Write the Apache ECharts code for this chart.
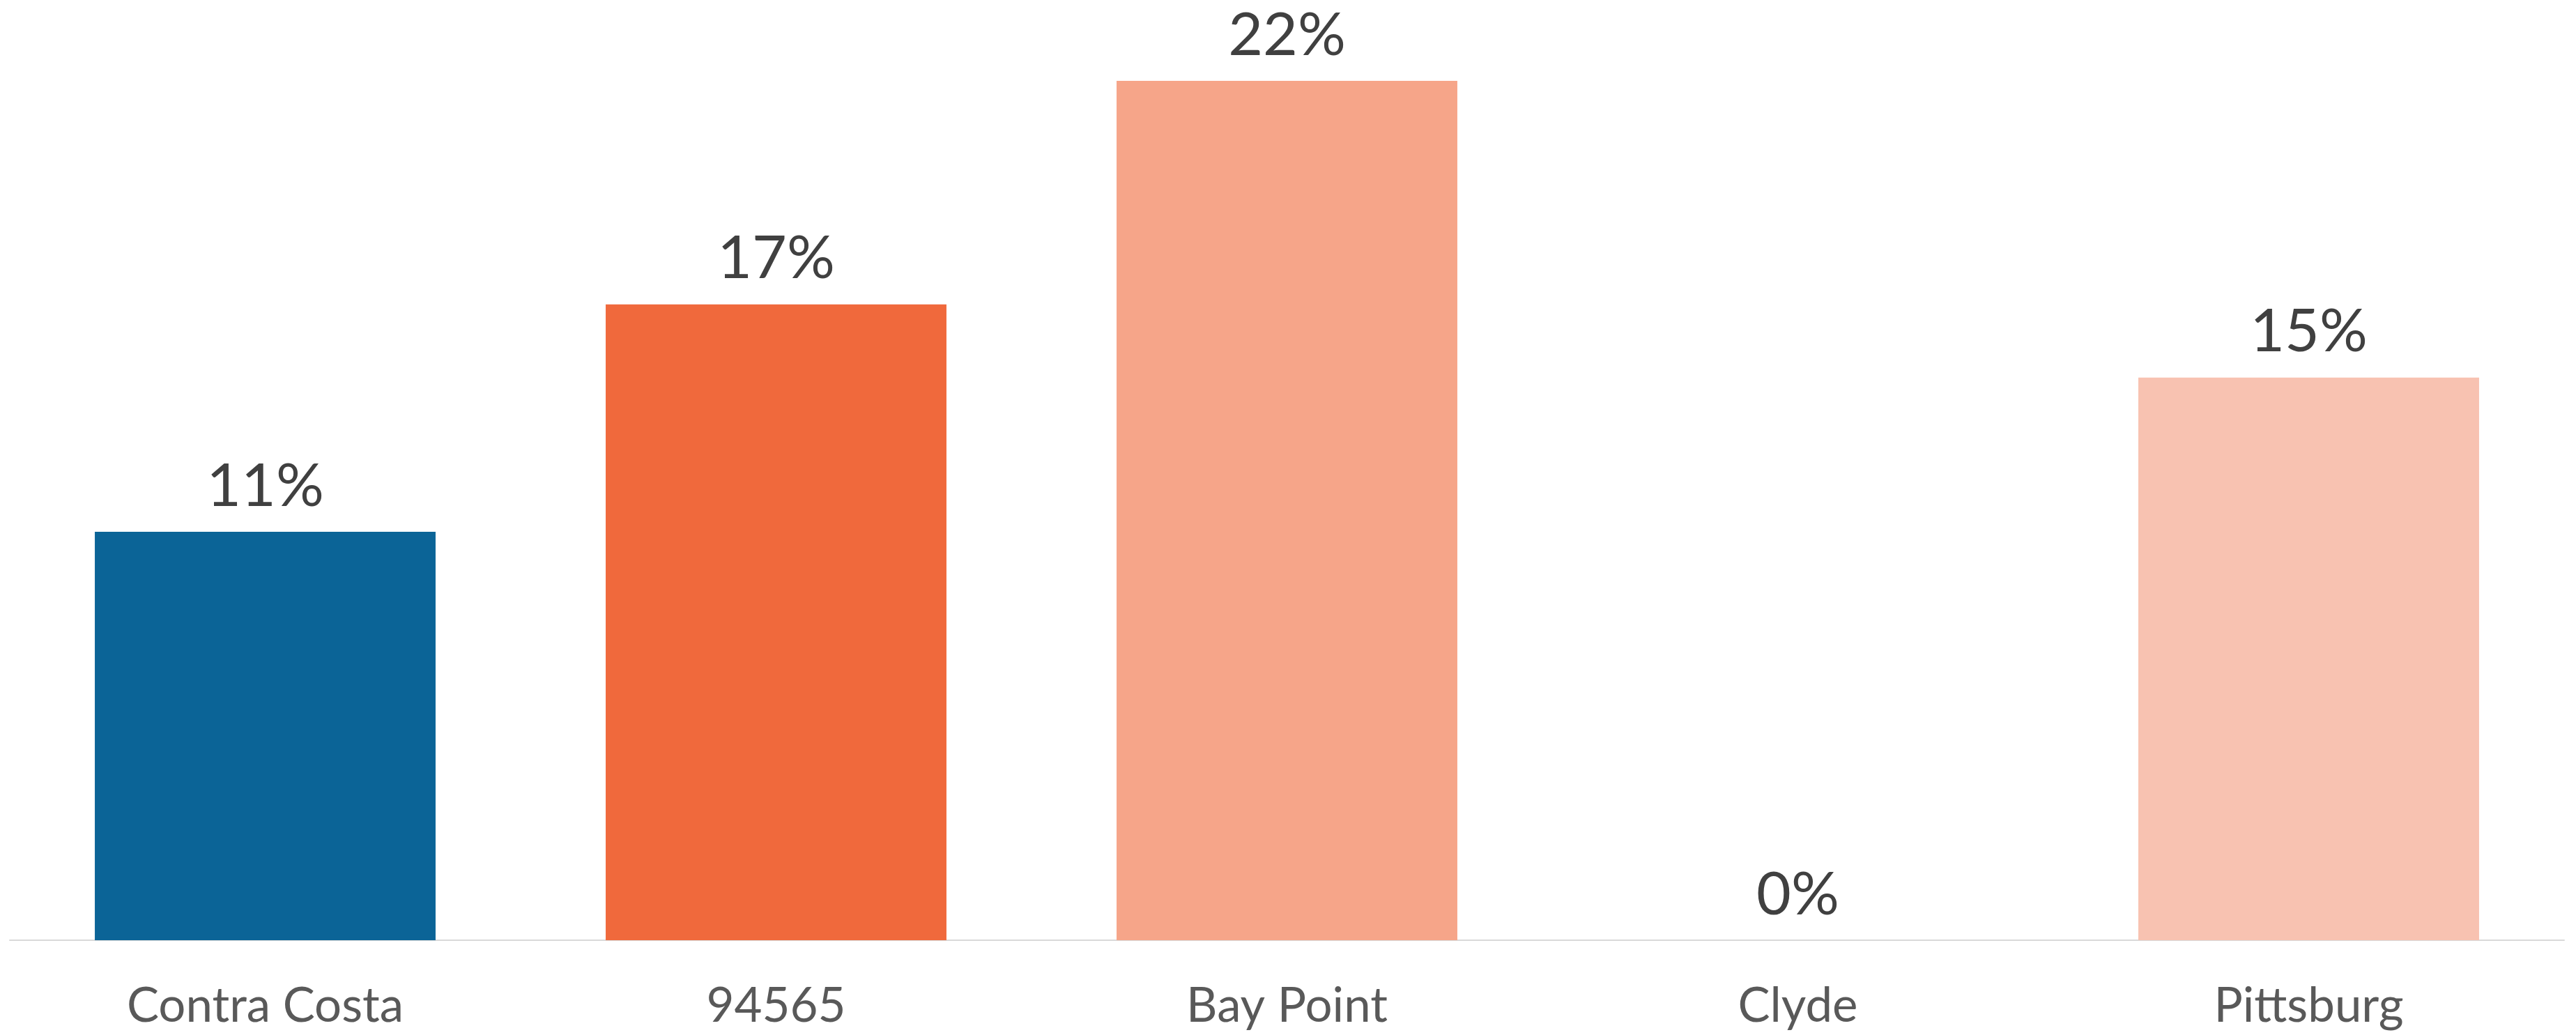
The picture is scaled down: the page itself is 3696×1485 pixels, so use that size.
<!DOCTYPE html>
<html>
<head>
<meta charset="utf-8">
<script src="https://cdn.jsdelivr.net/npm/echarts@6/dist/echarts.min.js"></script>
<style>
    html, body { margin: 0; padding: 0; background: #ffffff; }
    #chart { width: 3696px; height: 1485px; }
</style>
</head>
<body>
<div id="chart"></div>
<script>
    // share of households (%)
    const categories = ['Contra Costa', '94565', 'Bay Point', 'Clyde', 'Pittsburg'];
    const values = [10.6, 16.5, 22.3, 0, 14.6];
    const barColors = ['#0B6497', '#F0693C', '#F6A589', '#F6A589', '#F8C2B1'];

    let chart = echarts.init(document.getElementById('chart'));
    let option = {
        backgroundColor: '#ffffff',
        animation: false,
        grid: {
            left: 14,
            right: 17,
            top: 22,
            bottom: 136
        },
        xAxis: {
            type: 'category',
            data: categories,
            axisLine: { lineStyle: { color: '#D9D9D9', width: 2 } },
            axisTick: { show: false },
            axisLabel: {
                color: '#595959',
                fontFamily: 'Lato',
                fontSize: 69,
                margin: 60
            }
        },
        yAxis: {
            type: 'value',
            min: 0,
            max: 24,
            show: false,
            splitLine: { show: false }
        },
        series: [
            {
                type: 'bar',
                barCategoryGap: '33.3%',
                data: values.map((v, i) => ({ value: v, itemStyle: { color: barColors[i] } })),
                label: {
                    show: true,
                    position: 'top',
                    distance: 22,
                    color: '#404040',
                    fontFamily: 'Lato',
                    fontSize: 86,
                    formatter: p => Math.round(p.value) + '%'
                }
            }
        ]
    };
    chart.setOption(option);
</script>
</body>
</html>
